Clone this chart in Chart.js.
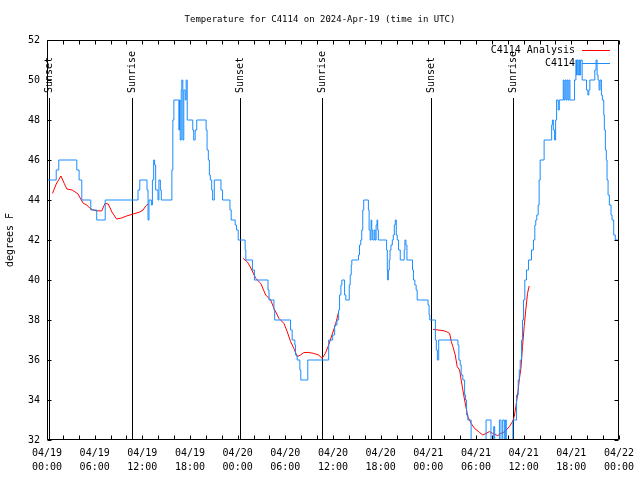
<!DOCTYPE html>
<html>
<head>
<meta charset="utf-8">
<script src="https://cdn.jsdelivr.net/npm/chart.js@4/dist/chart.umd.min.js"></script>
<style>
    html, body { margin: 0; padding: 0; background: #fff; }
</style>
</head>
<body>
<canvas id="tempChart" width="640" height="480"></canvas>
<script>
// hours since 04/19 00:00 UTC
const obsHours = [0.00, 1.16, 1.48, 3.75, 4.04, 4.38, 5.51, 6.26, 7.33, 11.46, 11.68, 12.59, 12.72, 12.84, 13.14, 13.27, 13.43, 13.55, 13.68, 13.97, 14.09, 14.27, 14.39,
    15.72, 15.84, 15.97, 16.60, 16.68, 16.77, 16.90, 16.97, 17.10, 17.22, 17.40, 17.52, 17.65, 18.35, 18.47, 18.65, 18.85, 20.03, 20.15, 20.31, 20.44, 20.56, 20.73, 20.85,
    21.06, 21.90, 22.10, 23.03, 23.19, 23.69, 23.85, 24.07, 24.94, 25.03, 25.86, 26.11, 27.82, 27.95, 28.57, 28.66, 30.66, 30.86, 31.20, 31.29, 31.49, 31.83, 31.95, 32.83,
    35.46, 35.96, 36.21, 36.50, 36.71, 36.83, 37.00, 37.12, 37.46, 37.62, 38.05, 38.17, 38.30, 38.37, 39.21, 39.34, 39.50, 39.62, 39.75, 39.87, 40.46, 40.55, 40.68, 40.80,
    40.88, 41.00, 41.18, 41.30, 41.43, 41.55, 41.63, 41.71, 42.75, 42.84, 42.88, 42.97, 43.09, 43.18, 43.30, 43.47, 43.59, 43.72, 43.84, 43.97, 44.09, 44.26, 44.47, 44.97,
    45.06, 45.18, 45.31, 46.01, 46.13, 46.31, 46.47, 46.60, 47.97, 48.10, 48.19, 48.89, 49.01, 49.14, 49.31, 51.73, 51.85, 52.02, 52.14, 52.35, 52.57, 52.69, 52.82, 52.98,
    53.39, 55.27, 55.89, 56.23, 56.36, 56.95, 57.15, 57.36, 57.57, 57.70, 57.82, 58.65, 59.11, 59.32, 59.45, 59.57, 59.74, 59.86, 59.99, 60.15, 60.36, 60.61, 60.99, 61.24,
    61.41, 61.53, 61.66, 61.83, 61.95, 62.08, 62.58, 63.53, 63.62, 63.74, 63.90, 64.03, 64.15, 64.36, 64.49, 64.99, 65.08, 65.21, 65.33, 65.46, 65.58, 65.71, 65.83, 66.41,
    66.58, 66.66, 66.75, 66.87, 67.00, 67.08, 67.18, 67.37, 67.91, 68.09, 68.21, 68.34, 68.96, 69.12, 69.25, 69.37, 69.50, 69.62, 69.79, 69.91, 70.09, 70.16, 70.29, 70.41,
    70.50, 70.63, 70.79, 71.00, 71.13, 71.34, 71.54, 72.00];
const obsTemps = [45, 45.5, 46, 45.5, 45, 44, 43.5, 43, 44, 44.5, 45, 44.5, 43, 44, 43.75, 45, 46, 45.75, 44.5, 44, 45, 44.5, 44,
    45.5, 48, 49, 47.5, 49, 47, 49.5, 50, 47, 49.5, 49, 50, 48, 47.5, 47, 47.5, 48, 47.5, 46.5, 46, 45.25, 45, 44.5, 44,
    45, 44.5, 44, 43.5, 43, 42.75, 42.5, 42, 41.5, 41, 40.5, 40, 39.5, 39, 38.5, 38, 37.5, 37, 36.75, 36.25, 36, 35.5, 35, 36,
    37, 37.25, 37.75, 38, 38.5, 39.25, 39.75, 40, 39.25, 39, 39.75, 40.25, 40.75, 41, 41.25, 41.75, 42, 42.5, 43.5, 44, 43.5, 42.5, 42, 43,
    42.5, 42, 42.5, 42, 42.75, 43, 42.5, 42, 41.5, 40.5, 40, 40.5, 41, 41.5, 41.75, 42, 42.25, 42.75, 43, 42.25, 42, 41.5, 41, 41.5,
    42, 41.75, 41, 40.5, 40, 39.75, 39.5, 39, 38.75, 38.25, 38, 37, 36.5, 36, 37, 36.75, 36, 35.75, 35.25, 35, 34.25, 34, 33.25, 33,
    31.5, 33, 31.5, 32.67, 31.5, 33, 31.5, 33, 31.5, 33, 31.5, 33, 34.25, 35, 35.5, 36, 37, 38, 39, 40, 40.5, 41, 41.5, 42,
    42.75, 43, 43.25, 43.75, 45, 46, 47, 47.75, 48, 47.5, 47, 48, 49, 48.5, 49, 50, 49, 50, 49, 50, 49, 50, 49, 50,
    51, 50.25, 51, 50.25, 51, 50.25, 51, 50, 49.5, 49.25, 49.5, 50, 50.5, 51, 50.25, 50, 49.5, 50, 49.25, 49, 48.25, 47.5, 46.5, 46,
    45, 44.25, 43.75, 43.25, 43, 42.25, 42, 42];

// analysis series, null = no analysis
const anaHours = [0.70, 1.16, 1.75, 2.17, 2.50, 3.17, 3.54, 3.92, 4.17, 4.58, 5.01, 5.42, 6.05, 6.88, 7.30, 7.71, 8.17, 8.76, 9.39, 10.01, 10.84, 11.68, 12.09, 12.43, 12.72,
    18.00,
    24.69, 25.23, 25.66, 26.28, 26.91, 27.53, 28.16, 28.57, 29.20, 29.82, 30.24, 30.66, 31.08, 31.49, 31.91, 32.33, 32.87, 33.58, 34.21, 34.62, 35.04, 35.46, 35.87, 36.30, 36.71,
    42.00,
    48.60, 49.85, 50.26, 50.69, 50.89, 51.10, 51.39, 51.64, 51.94, 52.14, 52.35, 52.57, 52.77, 52.98, 53.39, 53.82, 54.44, 54.86, 55.27, 55.69, 56.11, 56.73, 57.15, 57.65,
    58.20, 58.61, 58.82, 59.02, 59.24, 59.45, 59.66, 59.86, 60.07, 60.27, 60.49, 60.70];
const anaTemps = [44.33, 44.8, 45.2, 44.83, 44.55, 44.5, 44.4, 44.3, 44.1, 43.83, 43.75, 43.58, 43.47, 43.45, 43.83, 43.8, 43.4, 43.05, 43.1, 43.2, 43.3, 43.4, 43.5, 43.7, 43.8,
    null,
    41.08, 40.9, 40.6, 40.08, 39.83, 39.25, 39, 38.58, 38.08, 37.83, 37.42, 36.92, 36.58, 36.17, 36.25, 36.37, 36.38, 36.33, 36.25, 36.08, 36.33, 36.75, 37.25, 37.75, 38.4,
    null,
    37.53, 37.47, 37.42, 37.33, 36.92, 36.67, 36.25, 35.67, 35.5, 35, 34.5, 34, 33.58, 33.17, 32.83, 32.58, 32.38, 32.25, 32.33, 32.42, 32.33, 32.22, 32.33, 32.42,
    32.67, 32.92, 33.17, 33.67, 34.25, 35, 35.58, 36.67, 37.67, 38.5, 39.33, 39.7];

const eventHours = [0.20, 10.68, 24.25, 34.62, 48.30, 58.70];
const eventNames = ["Sunset", "Sunrise", "Sunset", "Sunrise", "Sunset", "Sunrise"];

const tickDates = ["04/19", "04/19", "04/19", "04/19", "04/20", "04/20", "04/20", "04/20", "04/21", "04/21", "04/21", "04/21", "04/22"];
const tickTimes = ["00:00", "06:00", "12:00", "18:00", "00:00", "06:00", "12:00", "18:00", "00:00", "06:00", "12:00", "18:00", "00:00"];

const chartTitle = "Temperature for C4114 on 2024-Apr-19 (time in UTC)";

const FONT = '"DejaVu Sans Mono", monospace';

// gnuplot look: title, box, inward ticks, sunrise/sunset markers, key at top right
const gnuplotPlugin = {
    id: "gnuplotLook",
    beforeDatasetsDraw(chart) {
        const { ctx, chartArea: a, scales: { x } } = chart;
        ctx.save();
        ctx.strokeStyle = "#000";
        ctx.fillStyle = "#000";
        ctx.lineWidth = 1;

        ctx.font = "9px " + FONT;
        ctx.textAlign = "center";
        ctx.textBaseline = "middle";
        ctx.fillText(chartTitle, 320, 20);

        ctx.font = "10px " + FONT;
        eventHours.forEach((h, i) => {
            const px = Math.round(x.getPixelForValue(h)) + 0.5;
            ctx.beginPath();
            ctx.moveTo(px, 98);
            ctx.lineTo(px, a.bottom);
            ctx.stroke();
            ctx.save();
            ctx.translate(px, 93);
            ctx.rotate(-Math.PI / 2);
            ctx.textAlign = "left";
            ctx.textBaseline = "middle";
            ctx.fillText(eventNames[i], 0, 0);
            ctx.restore();
        });
        ctx.restore();
    },
    afterDatasetsDraw(chart) {
        const { ctx, chartArea: a, scales: { x, y } } = chart;
        const L = Math.floor(a.left) + 0.5, R = Math.ceil(a.right) - 0.5;
        const T = Math.floor(a.top) + 0.5, B = Math.ceil(a.bottom) - 0.5;
        ctx.save();
        ctx.strokeStyle = "#000";
        ctx.lineWidth = 1;
        ctx.beginPath();
        ctx.rect(L, T, R - L, B - T);
        for (let h = 0; h <= 72; h += 2) {
            const px = Math.round(x.getPixelForValue(h)) + 0.5;
            ctx.moveTo(px, B); ctx.lineTo(px, B - 4);
            ctx.moveTo(px, T); ctx.lineTo(px, T + 4);
        }
        for (let v = 32; v <= 52; v += 2) {
            const py = Math.round(y.getPixelForValue(v)) + 0.5;
            ctx.moveTo(L, py); ctx.lineTo(L + 4, py);
            ctx.moveTo(R, py); ctx.lineTo(R - 4, py);
        }
        ctx.stroke();

        // key
        ctx.font = "10px " + FONT;
        ctx.textAlign = "right";
        ctx.textBaseline = "middle";
        ctx.fillStyle = "#000";
        [1, 0].forEach((di, row) => {
            const ds = chart.data.datasets[di];
            const ky = 50 + row * 13;
            ctx.fillText(ds.label, 575, ky);
            ctx.strokeStyle = ds.borderColor;
            ctx.beginPath();
            ctx.moveTo(582, ky + 0.5);
            ctx.lineTo(610, ky + 0.5);
            ctx.stroke();
        });
        ctx.restore();
    }
};

new Chart(document.getElementById("tempChart"), {
    type: "line",
    data: {
        datasets: [
            {
                label: "C4114",
                data: obsHours.map((h, i) => ({ x: h, y: obsTemps[i] })),
                borderColor: "#1a8cff",
                borderWidth: 1,
                pointRadius: 0,
                stepped: true,
                fill: false
            },
            {
                label: "C4114 Analysis",
                data: anaHours.map((h, i) => ({ x: h, y: anaTemps[i] })),
                borderColor: "#ff0000",
                borderWidth: 1,
                pointRadius: 0,
                tension: 0,
                spanGaps: false,
                fill: false
            }
        ]
    },
    options: {
        responsive: false,
        animation: false,
        events: [],
        layout: { padding: { left: 0, right: 18, top: 40, bottom: 0 } },
        plugins: {
            legend: { display: false },
            tooltip: { enabled: false },
            title: { display: false }
        },
        scales: {
            x: {
                type: "linear",
                min: 0,
                max: 72,
                grid: { display: false, drawTicks: false },
                border: { display: false },
                ticks: {
                    stepSize: 6,
                    autoSkip: false,
                    maxRotation: 0,
                    padding: 6,
                    color: "#000",
                    font: { family: FONT, size: 10, lineHeight: 1.4 },
                    callback: (v, i) => [tickDates[i], tickTimes[i]]
                },
                afterFit: (s) => { s.height = 40; }
            },
            y: {
                min: 32,
                max: 52,
                grid: { display: false, drawTicks: false },
                border: { display: false },
                ticks: {
                    stepSize: 2,
                    padding: 7,
                    color: "#000",
                    font: { family: FONT, size: 10 }
                },
                title: {
                    display: true,
                    text: "degrees F",
                    color: "#000",
                    font: { family: FONT, size: 10 },
                    padding: { top: 4, bottom: 0 }
                },
                afterFit: (s) => { s.width = 47; }
            }
        }
    },
    plugins: [gnuplotPlugin]
});
</script>
</body>
</html>
